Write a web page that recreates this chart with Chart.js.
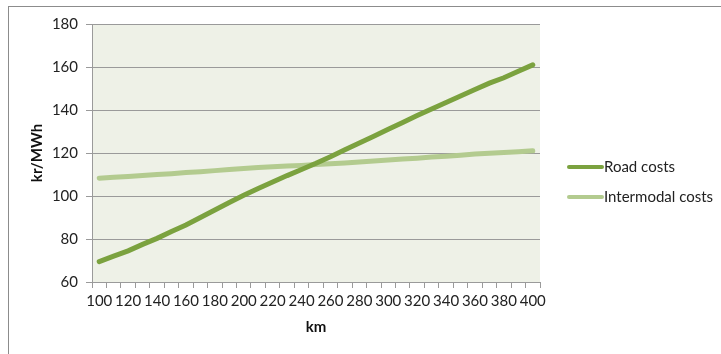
<!DOCTYPE html>
<html>
<head>
<meta charset="utf-8">
<script src="https://cdn.jsdelivr.net/npm/chart.js@4"></script>
<style>
  html, body { margin: 0; padding: 0; background: #fff; }
  #wrap { position: relative; width: 721px; height: 354px; }
</style>
</head>
<body>
<div id="wrap"><canvas id="c" width="721" height="354"></canvas></div>
<script>
// Distance in km (every 10 km; labels shown every 20 km)
const distances = [100,110,120,130,140,150,160,170,180,190,200,210,220,230,240,250,
                   260,270,280,290,300,310,320,330,340,350,360,370,380,390,400];
// Cost per MWh for each transport mode
const roadCosts = [69.5,72,74.5,77.5,80.3,83.5,86.5,90,93.5,97,100.3,103.5,106.5,109.5,112.3,115.2,
                   118.3,121.5,124.7,127.8,131,134.2,137.4,140.5,143.5,146.5,149.5,152.5,155,158,161];
const intermodalCosts = [108.3,108.7,109.1,109.5,110,110.4,110.9,111.3,111.8,112.3,112.8,113.2,113.6,113.9,114.2,114.6,
                         115,115.4,115.8,116.3,116.7,117.2,117.6,118.1,118.5,119,119.5,119.9,120.2,120.6,121];
const seriesNames = ['Road costs', 'Intermodal costs'];
const yTicks = [60, 80, 100, 120, 140, 160, 180];

const FONT = 'Lato, "Open Sans", sans-serif';
const ROAD = '#7BA23F';
const INTER = '#B3CB8F';

// Frame, plot background and the legend at the right
const decor = {
  id: 'decor',
  beforeDraw(chart) {
    const {ctx, chartArea: a} = chart;
    ctx.save();
    ctx.strokeStyle = '#8c8c8c';
    ctx.lineWidth = 1;
    ctx.strokeRect(8.5, 6.5, 900, 500);
    ctx.fillStyle = '#EEF1E7';
    ctx.fillRect(a.left, a.top, a.right - a.left, a.bottom - a.top);
    ctx.restore();
  },
  afterDraw(chart) {
    const {ctx} = chart;
    ctx.save();
    const rows = [167, 197];
    chart.data.datasets.forEach((ds, i) => {
      const y = rows[i];
      ctx.strokeStyle = ds.borderColor;
      ctx.lineWidth = 4;
      ctx.lineCap = 'round';
      ctx.beginPath();
      ctx.moveTo(569, y);
      ctx.lineTo(602, y);
      ctx.stroke();
      ctx.fillStyle = '#222';
      ctx.font = '15px ' + FONT;
      ctx.textBaseline = 'middle';
      ctx.textAlign = 'left';
      ctx.fillText(ds.label, 604, y);
    });
    ctx.restore();
  }
};

new Chart(document.getElementById('c'), {
  type: 'line',
  data: {
    labels: distances,
    datasets: [
      { label: seriesNames[0], data: roadCosts, borderColor: ROAD, backgroundColor: ROAD,
        borderWidth: 5, pointRadius: 0, borderCapStyle: 'round', tension: 0 },
      { label: seriesNames[1], data: intermodalCosts, borderColor: INTER, backgroundColor: INTER,
        borderWidth: 5, pointRadius: 0, borderCapStyle: 'round', tension: 0 }
    ]
  },
  options: {
    responsive: false,
    animation: false,
    layout: { padding: { top: 24, right: 181, left: 0, bottom: 0 } },
    plugins: { legend: { display: false }, tooltip: { enabled: false } },
    scales: {
      x: {
        type: 'category',
        offset: true,
        grid: { display: true, offset: true, drawOnChartArea: false, drawTicks: true,
                tickLength: 6, color: '#9a9a9a' },
        border: { display: true, color: '#9a9a9a', width: 1 },
        ticks: {
          autoSkip: false, maxRotation: 0, padding: 4, color: '#222',
          font: { family: FONT, size: 15 },
          callback: (v, i) => (distances[i] % 20 === 0 ? String(distances[i]) : '')
        },
        title: { display: true, text: 'km', color: '#111',
                 font: { family: FONT, size: 15, weight: 'bold' },
                 padding: { top: 0, bottom: 18 } },
        afterFit: s => { s.height = 72; }
      },
      y: {
        min: 60, max: 180,
        afterBuildTicks: s => { s.ticks = yTicks.map(v => ({ value: v })); },
        grid: { color: '#9a9a9a', tickLength: 6, drawTicks: true },
        border: { display: true, color: '#9a9a9a', width: 1 },
        ticks: { padding: 8, color: '#222', font: { family: FONT, size: 15 } },
        title: { display: true, text: 'kr/MWh', color: '#111',
                 font: { family: FONT, size: 15, weight: 'bold' },
                 padding: { top: 28, bottom: 0 } },
        afterFit: s => { s.width = 92; }
      }
    }
  },
  plugins: [decor]
});
</script>
</body>
</html>
